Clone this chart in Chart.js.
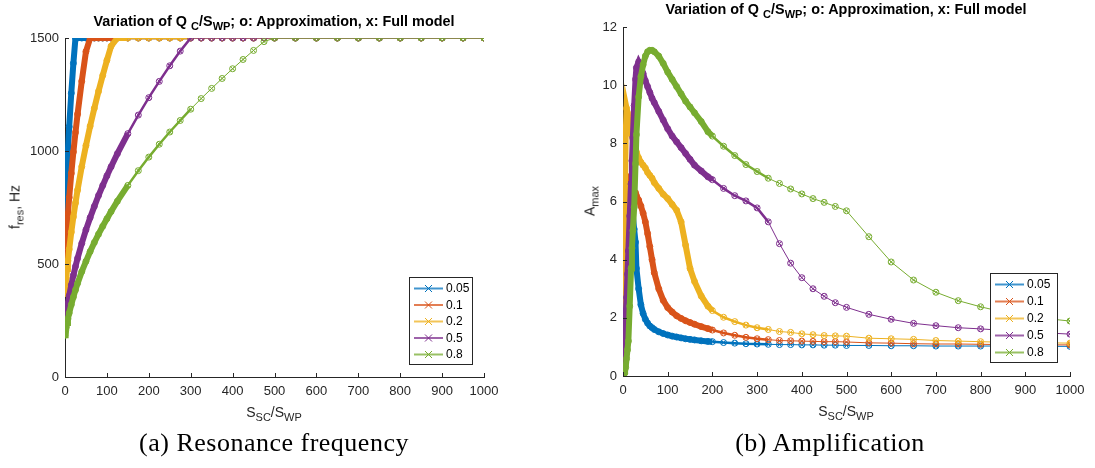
<!DOCTYPE html>
<html>
<head>
<meta charset="utf-8">
<script src="https://cdn.jsdelivr.net/npm/chart.js@4.4.0/dist/chart.umd.min.js"></script>
<style>
  html, body { margin: 0; padding: 0; background: #fff; }
  body { width: 1095px; height: 468px; position: relative; overflow: hidden; font-family: "Liberation Sans", Arial, sans-serif; }
  canvas { position: absolute; top: 0; }
  .txt { position: absolute; white-space: nowrap; color: #262626; line-height: 16px; }
  .txt sub { vertical-align: baseline; position: relative; top: 4px; }
  .ttl { font-weight: bold; font-size: 14.4px; color: #000; transform: translateX(-50%); }
  .ttl sub { font-size: 11px; }
  .lbl { font-size: 14px; }
  .lbl sub { font-size: 11px; }
  .xlab { transform: translateX(-50%); }
  .ylab { transform: translate(-50%, -50%) rotate(-90deg); }
  .cap { font-family: "Liberation Serif", serif; font-size: 26px; line-height: 30px; color: #000; transform: translateX(-50%); letter-spacing: 0.5px; }
</style>
</head>
<body>
<canvas id="freqChart" width="545" height="468" style="left:0"></canvas>
<canvas id="ampChart" width="550" height="468" style="left:545px"></canvas>

<div class="txt ttl" style="left:274px; top:13px">Variation of Q <sub>C</sub>/S<sub>WP</sub>; o: Approximation, x: Full model</div>
<div class="txt ttl" style="left:846px; top:1px">Variation of Q <sub>C</sub>/S<sub>WP</sub>; o: Approximation, x: Full model</div>

<div class="txt lbl xlab" style="left:274px; top:404px">S<sub>SC</sub>/S<sub>WP</sub></div>
<div class="txt lbl xlab" style="left:846px; top:403px">S<sub>SC</sub>/S<sub>WP</sub></div>

<div class="txt lbl ylab" style="left:15px; top:207px">f<sub>res</sub>, Hz</div>
<div class="txt lbl ylab" style="left:590px; top:201px">A<sub>max</sub></div>

<div class="txt cap" style="left:274px; top:428px">(a) Resonance frequency</div>
<div class="txt cap" style="left:830px; top:428px">(b) Amplification</div>

<script>
// Q_C/S_WP values (legend)
const qLabels = ['0.05', '0.1', '0.2', '0.5', '0.8'];
const seriesColors = ['#0072BD', '#D95319', '#EDB120', '#7E2F8E', '#77AC30'];

// ticks
const xTickValues = [0, 100, 200, 300, 400, 500, 600, 700, 800, 900, 1000];
const freqTickValues = [0, 500, 1000, 1500];
const ampTickValues = [0, 2, 4, 6, 8, 10, 12];

// (a) resonance frequency, Hz
const xFreq = [0, 1, 2, 3, 5, 7, 10, 15, 20, 25, 30, 40, 50, 60, 70, 80, 90, 100, 110, 125,
    150, 175, 200, 225, 250, 275, 300, 325, 350, 375, 400, 425, 450, 475, 500,
    550, 600, 650, 700, 750, 800, 850, 900, 950, 1000];
const fres005 = [725, 772, 816, 858, 936, 1008, 1107, 1256, 1388, 1500, 1500, 1500, 1500, 1500, 1500, 1500, 1500, 1500, 1500, 1500,
    1500, 1500, 1500, 1500, 1500, 1500, 1500, 1500, 1500, 1500, 1500, 1500, 1500, 1500, 1500,
    1500, 1500, 1500, 1500, 1500, 1500, 1500, 1500, 1500, 1500];
const fres01 = [520, 554, 585, 615, 671, 723, 794, 901, 996, 1082, 1163, 1309, 1440, 1500, 1500, 1500, 1500, 1500, 1500, 1500,
    1500, 1500, 1500, 1500, 1500, 1500, 1500, 1500, 1500, 1500, 1500, 1500, 1500, 1500, 1500,
    1500, 1500, 1500, 1500, 1500, 1500, 1500, 1500, 1500, 1500];
const fres02 = [370, 394, 416, 438, 478, 514, 565, 641, 709, 770, 827, 931, 1024, 1110, 1189, 1264, 1334, 1401, 1464, 1500,
    1500, 1500, 1500, 1500, 1500, 1500, 1500, 1500, 1500, 1500, 1500, 1500, 1500, 1500, 1500,
    1500, 1500, 1500, 1500, 1500, 1500, 1500, 1500, 1500, 1500];
const fres05 = [235, 250, 264, 278, 303, 327, 359, 407, 450, 489, 525, 591, 651, 705, 755, 803, 847, 890, 930, 988,
    1077, 1159, 1236, 1308, 1377, 1442, 1500, 1500, 1500, 1500, 1500, 1500, 1500, 1500, 1500,
    1500, 1500, 1500, 1500, 1500, 1500, 1500, 1500, 1500, 1500];
const fres08 = [185, 197, 208, 219, 239, 257, 283, 320, 354, 385, 414, 466, 512, 555, 595, 632, 667, 700, 732, 778,
    848, 913, 973, 1030, 1084, 1135, 1185, 1232, 1277, 1321, 1364, 1405, 1445, 1484, 1500,
    1500, 1500, 1500, 1500, 1500, 1500, 1500, 1500, 1500, 1500];

// (b) amplification
const xAmp = [0, 2, 4, 6, 8, 10, 12, 15, 18, 20, 22, 25, 28, 30, 35, 40, 45, 50, 55, 60, 65, 70,
    80, 90, 100, 110, 120, 130, 140, 150, 160, 175, 190, 200,
    225, 250, 275, 300, 325, 350, 375, 400, 425, 450, 475, 500,
    550, 600, 650, 700, 750, 800, 850, 900, 950, 1000];
const amp005 = [1.0, 4.3, 4.5, 4.55, 4.6, 4.6, 4.65, 4.7, 4.8, 4.85, 4.95, 5.05, 4.6, 3.7, 3.0, 2.45, 2.15, 1.95, 1.82, 1.72, 1.66, 1.6,
    1.52, 1.46, 1.41, 1.37, 1.34, 1.31, 1.28, 1.26, 1.24, 1.21, 1.19, 1.18,
    1.15, 1.13, 1.11, 1.1, 1.09, 1.08, 1.08, 1.07, 1.07, 1.06, 1.06, 1.05,
    1.05, 1.04, 1.04, 1.03, 1.03, 1.03, 1.03, 1.02, 1.02, 1.02];
const amp01 = [0.8, 4.0, 6.3, 6.9, 6.85, 6.8, 6.75, 6.65, 6.55, 6.5, 6.45, 6.35, 6.3, 6.2, 6.05, 5.85, 5.6, 5.3, 4.9, 4.45, 4.0, 3.55,
    3.0, 2.6, 2.35, 2.2, 2.07, 1.98, 1.9, 1.84, 1.78, 1.7, 1.63, 1.58,
    1.48, 1.4, 1.33, 1.28, 1.25, 1.22, 1.21, 1.2, 1.19, 1.18, 1.18, 1.17,
    1.14, 1.13, 1.11, 1.1, 1.1, 1.09, 1.08, 1.08, 1.07, 1.07];
const amp02 = [0.5, 3.0, 6.0, 8.3, 9.2, 9.05, 8.9, 8.7, 8.45, 8.3, 8.15, 7.95, 7.8, 7.7, 7.5, 7.35, 7.25, 7.15, 7.0, 6.9, 6.8, 6.65,
    6.45, 6.25, 6.1, 5.9, 5.7, 5.3, 4.5, 3.7, 3.25, 2.75, 2.4, 2.25,
    2.02, 1.87, 1.75, 1.66, 1.6, 1.53, 1.5, 1.45, 1.42, 1.39, 1.38, 1.37,
    1.3, 1.28, 1.26, 1.22, 1.2, 1.18, 1.16, 1.15, 1.14, 1.13];
const amp05 = [0.5, 1.0, 1.5, 2.1, 2.7, 3.5, 4.3, 5.5, 6.6, 7.4, 8.2, 9.3, 10.2, 10.6, 10.8, 10.65, 10.4, 10.15, 9.95, 9.75, 9.55, 9.4,
    9.1, 8.8, 8.5, 8.25, 8.05, 7.85, 7.65, 7.45, 7.25, 7.05, 6.85, 6.75,
    6.45, 6.2, 6.02, 5.78, 5.3, 4.55, 3.88, 3.38, 3.0, 2.74, 2.52, 2.36,
    2.12, 1.95, 1.81, 1.73, 1.66, 1.62, 1.57, 1.52, 1.48, 1.44];
const amp08 = [0.0, 0.05, 0.1, 0.3, 0.6, 0.9, 1.2, 2.4, 3.7, 4.4, 5.0, 5.8, 7.3, 8.3, 9.6, 10.3, 10.7, 11.0, 11.15, 11.2, 11.2, 11.15,
    11.0, 10.75, 10.45, 10.2, 9.95, 9.7, 9.45, 9.25, 9.05, 8.75, 8.4, 8.25,
    7.9, 7.58, 7.27, 7.03, 6.8, 6.62, 6.43, 6.26, 6.1, 5.97, 5.83, 5.68,
    4.79, 3.92, 3.3, 2.88, 2.59, 2.38, 2.2, 2.07, 1.97, 1.89];

Chart.defaults.font.family = '"Liberation Sans", Arial, sans-serif';

const axisColor = '#262626';

// inward ticks + boxed legend inside the axes
const axesDecor = {
    id: 'axesDecor',
    afterDatasetsDraw(chart, args, opts) {
        const { ctx, chartArea } = chart;
        const { x, y } = chart.scales;
        ctx.save();
        ctx.strokeStyle = axisColor;
        ctx.lineWidth = 1;
        ctx.beginPath();
        x.ticks.forEach(t => {
            const px = Math.round(x.getPixelForValue(t.value)) + 0.5;
            ctx.moveTo(px, chartArea.bottom);
            ctx.lineTo(px, chartArea.bottom - 4);
        });
        y.ticks.forEach(t => {
            const py = Math.round(y.getPixelForValue(t.value)) + 0.5;
            ctx.moveTo(chartArea.left, py);
            ctx.lineTo(chartArea.left + 4, py);
        });
        ctx.stroke();

        // legend
        const box = opts.box;
        ctx.fillStyle = '#fff';
        ctx.fillRect(box.x, box.y, box.w, box.h);
        ctx.strokeStyle = axisColor;
        ctx.strokeRect(box.x + 0.5, box.y + 0.5, box.w, box.h);
        ctx.font = '12px "Liberation Sans", Arial, sans-serif';
        ctx.textBaseline = 'middle';
        qLabels.forEach((label, i) => {
            const cy = box.y + 11.5 + i * box.step;
            ctx.globalAlpha = 0.75;
            ctx.strokeStyle = seriesColors[i];
            ctx.lineWidth = 2;
            ctx.beginPath();
            ctx.moveTo(box.x + 5, cy);
            ctx.lineTo(box.x + 34, cy);
            ctx.stroke();
            ctx.globalAlpha = 1;
            ctx.lineWidth = 1;
            const mx = box.x + 19.5;
            ctx.beginPath();
            ctx.moveTo(mx - 3.5, cy - 3.5); ctx.lineTo(mx + 3.5, cy + 3.5);
            ctx.moveTo(mx - 3.5, cy + 3.5); ctx.lineTo(mx + 3.5, cy - 3.5);
            ctx.stroke();
            ctx.fillStyle = '#000';
            ctx.fillText(label, box.x + 37, cy + 0.5);
        });
        ctx.restore();
    }
};

// dense sampling near the origin shows up as a thick band of markers
function segmentWidth(limits) {
    return c => {
        const x = c.p1.parsed.x;
        if (x <= limits[0]) return 6;
        if (x <= limits[1]) return 2.5;
        return 1;
    };
}

function buildDatasets(xs, series, limits) {
    const sets = [];
    series.forEach((ys, i) => {
        const pts = xs.map((x, k) => ({ x: x, y: ys[k] }));
        const color = seriesColors[i];
        // full model: line + x markers
        sets.push({
            label: qLabels[i],
            data: pts,
            borderColor: color,
            backgroundColor: color,
            borderWidth: 1,
            pointStyle: 'crossRot',
            pointRadius: 3,
            pointBorderWidth: 1,
            pointBorderColor: color,
            order: (4 - i) * 2 + 1,
            segment: { borderWidth: segmentWidth(limits) }
        });
        // approximation: o markers
        sets.push({
            label: qLabels[i] + ' approx',
            data: pts,
            showLine: false,
            pointStyle: 'circle',
            pointRadius: 3,
            pointBorderWidth: 1,
            pointBorderColor: color,
            pointBackgroundColor: 'rgba(0,0,0,0)',
            order: (4 - i) * 2
        });
    });
    return sets;
}

function axisOptions(tickValues, min, max, size, isX) {
    const opts = {
        type: 'linear',
        min: min,
        max: max,
        afterBuildTicks: s => { s.ticks = tickValues.map(v => ({ value: v })); },
        ticks: {
            color: axisColor,
            font: { size: 13 },
            padding: isX ? 7 : 6,
            maxRotation: 0,
            autoSkip: false,
            callback: v => String(v)
        },
        grid: { drawOnChartArea: false, drawTicks: false },
        border: { color: axisColor, width: 1 }
    };
    opts.afterFit = isX ? (s => { s.height = size; }) : (s => { s.width = size; });
    return opts;
}

function makeChart(id, xs, series, limits, yTicks, yMax, layout, legendBox) {
    return new Chart(document.getElementById(id), {
        type: 'line',
        data: { datasets: buildDatasets(xs, series, limits) },
        options: {
            responsive: false,
            animation: false,
            events: [],
            layout: { padding: layout.padding },
            plugins: {
                legend: { display: false },
                tooltip: { enabled: false },
                axesDecor: { box: legendBox }
            },
            scales: {
                x: axisOptions(xTickValues, 0, 1000, layout.xHeight, true),
                y: axisOptions(yTicks, 0, yMax, layout.yWidth, false)
            }
        },
        plugins: [axesDecor]
    });
}

makeChart('freqChart', xFreq, [fres005, fres01, fres02, fres05, fres08], [150, 300], freqTickValues, 1500,
    { padding: { top: 38, right: 61, left: 0, bottom: 0 }, xHeight: 91, yWidth: 65 },
    { x: 409, y: 277, w: 63, h: 87, step: 16.5 });

makeChart('ampChart', xAmp, [amp005, amp01, amp02, amp05, amp08], [200, 325], ampTickValues, 12,
    { padding: { top: 27, right: 25, left: 0, bottom: 0 }, xHeight: 92, yWidth: 78 },
    { x: 445, y: 273, w: 67, h: 89, step: 17 });
</script>
</body>
</html>
